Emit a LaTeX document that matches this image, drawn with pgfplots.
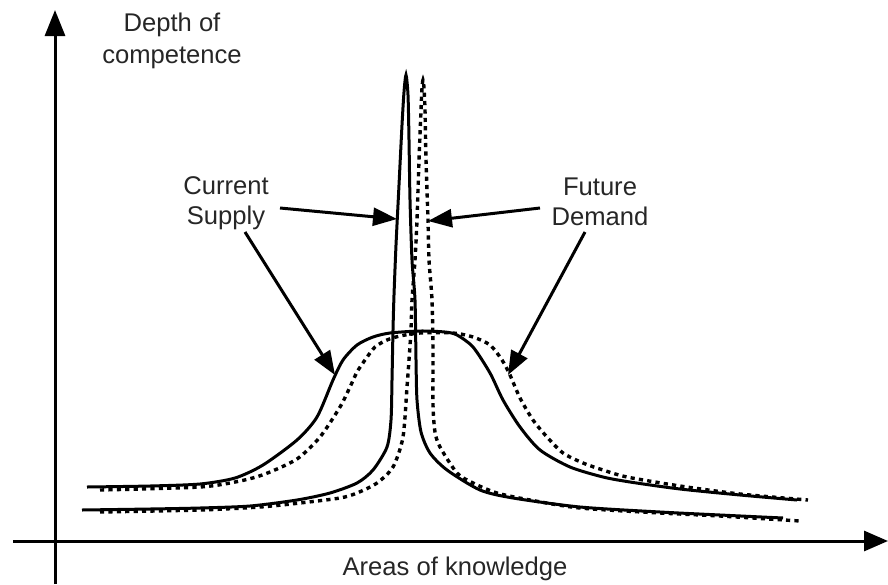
\documentclass[border=0pt]{standalone}
\usepackage{pgfplots}
\pgfplotsset{compat=1.18}
\usetikzlibrary{arrows.meta}
\usepackage{fontspec}
\setmainfont{Liberation Sans}
\begin{document}
\begin{tikzpicture}
\begin{axis}[hide axis, scale only axis, width=444pt, height=292pt,
  xmin=0, xmax=888, ymin=0, ymax=584, y dir=reverse, clip=false]
\coordinate (bl) at (axis cs:0,584);
\coordinate (tr) at (axis cs:888,0);
% narrow current supply
\addplot[black, solid, line width=1.5pt, mark=none, smooth, tension=0.45] coordinates {(82,510)(150,509)(200,508)(250,506)(297,500)(330,493)(357,483)(373,470)(387,447)(391,420)(392,380)(393,330)(394,295)(396,245)(399,185)(402,125)(404,92)(406,75)(408,95)(409,140)(410,200)(412,260)(415,300)(416,360)(417,400)(421,432)(430,453)(447,470)(480,490)(513,498)(580,507)(660,512)(720,515)(783,518)};
% narrow future demand
\addplot[black, line width=1.7pt, mark=none, smooth, tension=0.45, dash pattern=on 2.1pt off 2.1pt] coordinates {(100,512)(200,510)(260,507)(300,503)(340,498)(357,493)(377,483)(393,467)(403,437)(407,387)(409,360)(411,330)(412,300)(415,260)(417,220)(419,160)(421,110)(422,88)(423,80)(424,88)(425,110)(426,160)(428,220)(429,260)(432,300)(433,350)(433,405)(435,432)(440,447)(457,473)(473,483)(497,493)(530,500)(580,508)(660,513)(720,516)(800,521)};
% broad current supply
\addplot[black, solid, line width=1.5pt, mark=none, smooth, tension=0.45] coordinates {(87,487)(150,486)(200,484)(235,478)(263,465)(297,440)(317,417)(333,380)(343,360)(357,345)(373,337)(390,333)(420,331)(445,332)(457,335)(473,347)(490,373)(503,400)(520,427)(540,450)(570,467)(603,477)(630,482)(680,489)(740,495)(797,500)};
% broad future demand
\addplot[black, line width=1.7pt, mark=none, smooth, tension=0.45, dash pattern=on 2.1pt off 2.1pt] coordinates {(100,490)(200,487)(240,481)(265,474)(297,459)(320,437)(340,407)(350,387)(357,372)(365,360)(375,347)(387,340)(400,336)(420,333)(453,333)(473,337)(490,345)(502,360)(510,375)(520,398)(533,420)(547,437)(563,453)(583,463)(603,470)(627,477)(680,486)(740,494)(808,500)};
% axes
\draw[line width=1.5pt, -{Triangle[length=13pt,width=10pt]}] (axis cs:55,584) -- (axis cs:55,10);
\draw[line width=1.5pt, -{Triangle[length=12pt,width=10pt]}] (axis cs:13,541) -- (axis cs:888,541);
% annotation arrows
\draw[line width=1.5pt, -{Triangle[length=12pt,width=9pt]}] (axis cs:280,208) -- (axis cs:397,219);
\draw[line width=1.5pt, -{Triangle[length=12pt,width=9pt]}] (axis cs:245,232) -- (axis cs:335,375);
\draw[line width=1.5pt, -{Triangle[length=12pt,width=9pt]}] (axis cs:540,208) -- (axis cs:428,221);
\draw[line width=1.5pt, -{Triangle[length=12pt,width=9pt]}] (axis cs:585,232) -- (axis cs:508,375);
% labels
\node[align=center, text=black!85, font=\fontsize{12.8}{15}\selectfont] at (axis cs:226,203) {Current\\Supply};
\node[align=center, text=black!85, font=\fontsize{12.8}{15}\selectfont] at (axis cs:600,202) {Future\\Demand};
\node[align=center, text=black!85, font=\fontsize{12.8}{16}\selectfont] at (axis cs:172,41) {Depth of\\competence};
\node[text=black!85, font=\fontsize{12.8}{15}\selectfont] at (axis cs:455,569) {Areas of knowledge};
\end{axis}
\pgfresetboundingbox
\path (bl) rectangle (tr);
\end{tikzpicture}
\end{document}
